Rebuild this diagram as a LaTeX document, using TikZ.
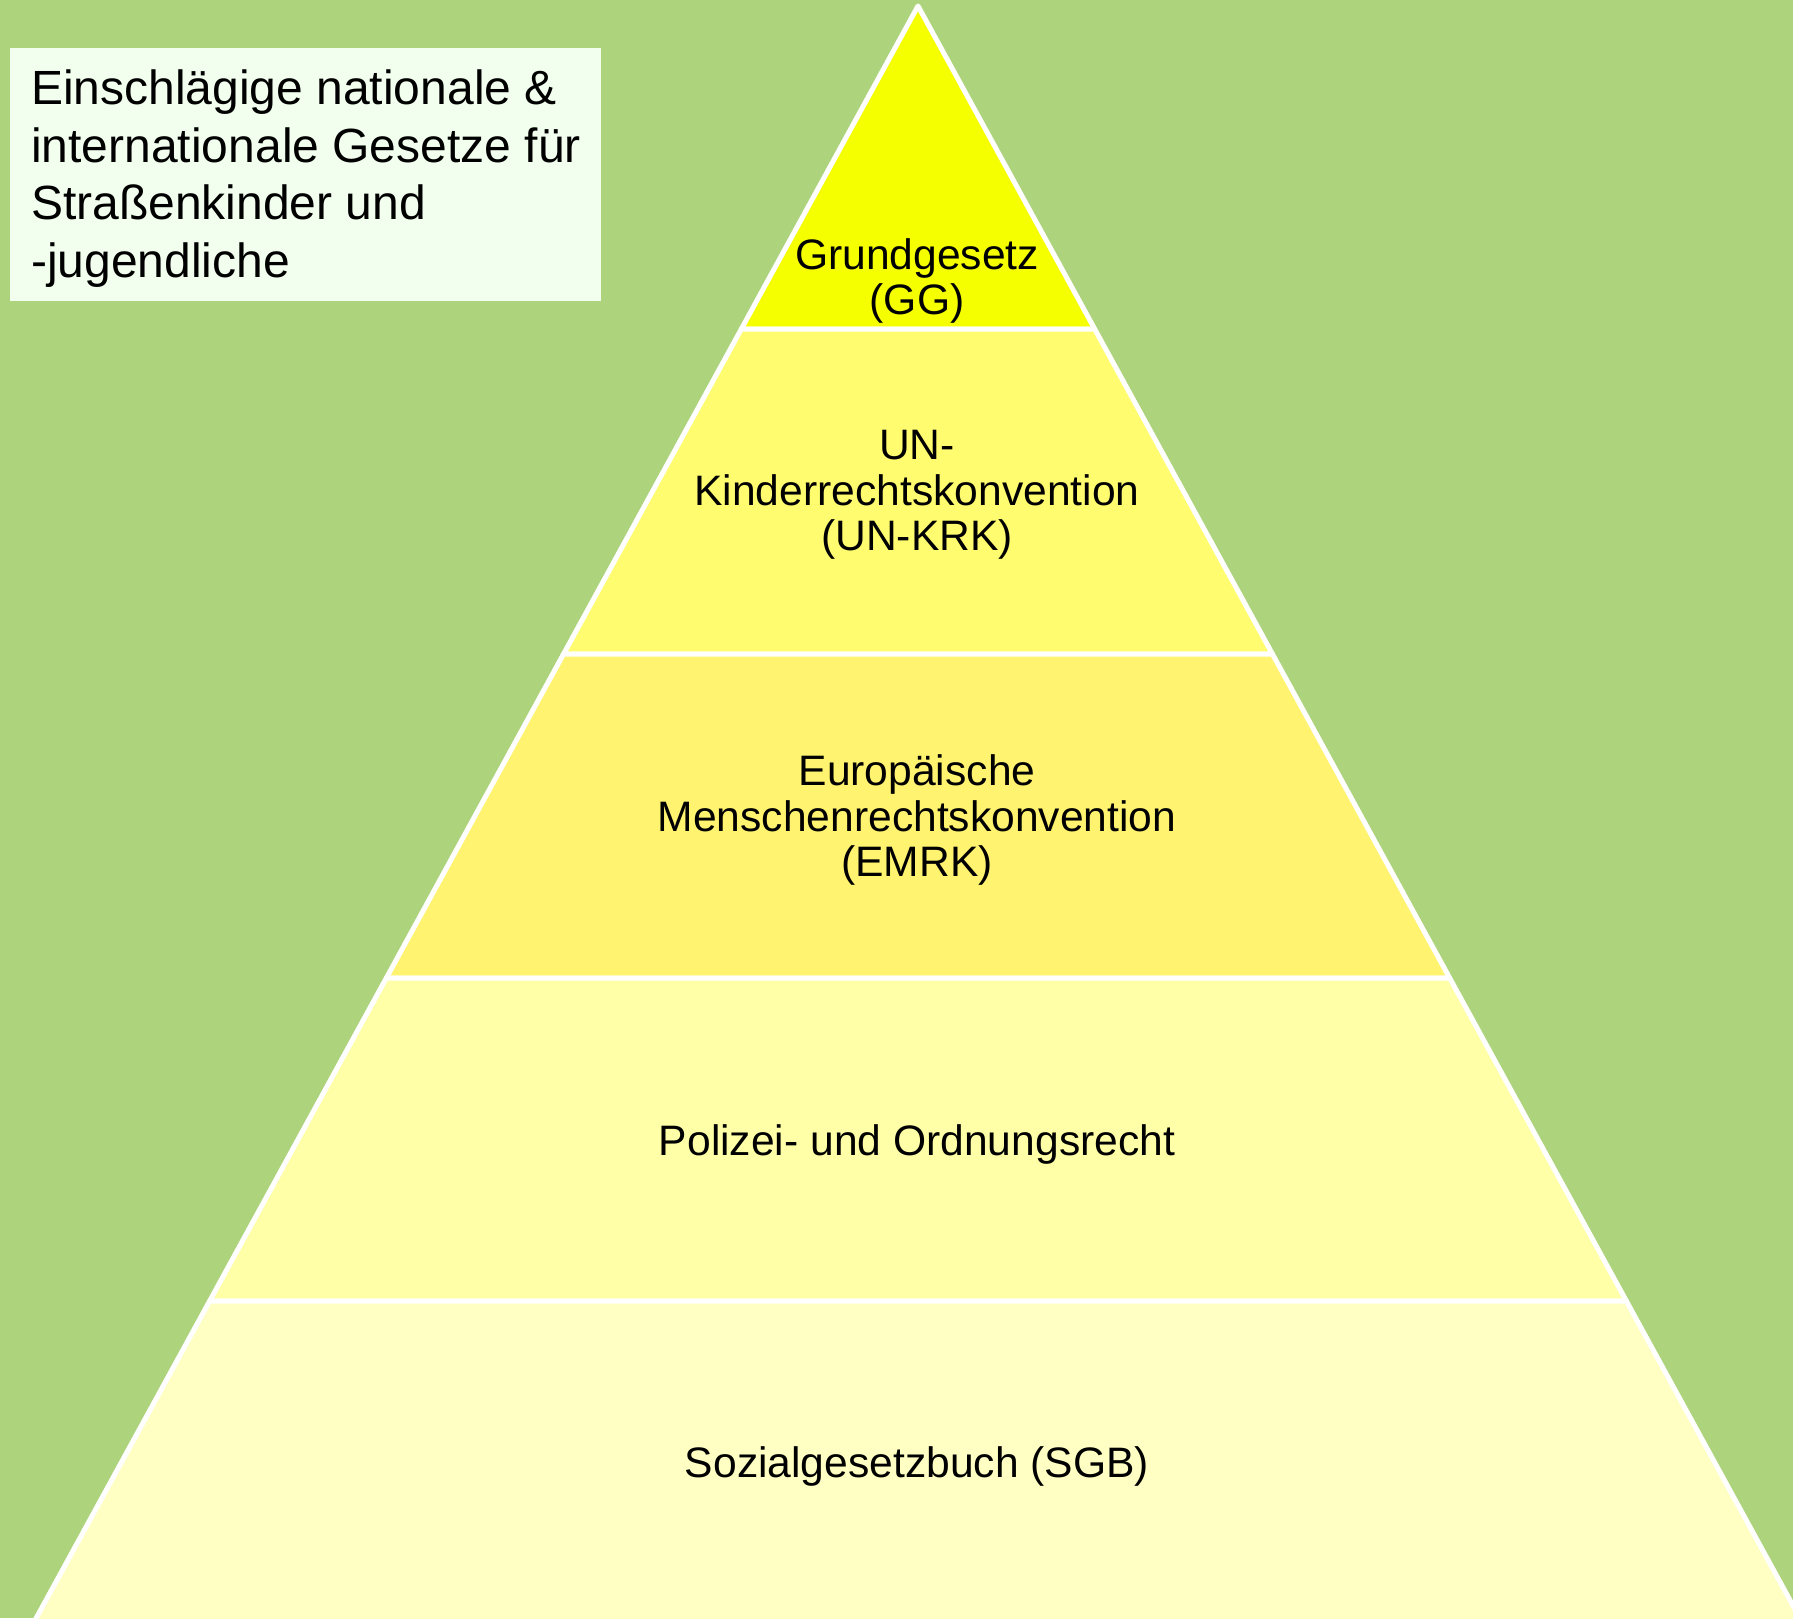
\documentclass[tikz,border=0pt]{standalone}
\usepackage{fontspec}
\setmainfont{Liberation Sans}

\definecolor{bggreen}{RGB}{173,211,125}
\definecolor{boxfill}{RGB}{242,255,238}
\definecolor{ggyellow}{RGB}{245,255,0}
\definecolor{krkyellow}{RGB}{255,252,112}
\definecolor{emrkyellow}{RGB}{255,243,112}
\definecolor{polyellow}{RGB}{255,255,168}
\definecolor{sgbyellow}{RGB}{255,255,196}

\begin{document}
\begin{tikzpicture}
  [x=1pt, y=-1pt,
   band/.style={draw=white, line width=5pt, line join=round},
   lawlabel/.style={font=\fontsize{42.6}{45.5}\selectfont, align=center, inner sep=0pt},
   titlebox/.style={fill=boxfill, anchor=north west, inner sep=0pt,
     minimum width=591pt, minimum height=253pt},
   titletext/.style={align=left, inner sep=0pt, font=\fontsize{48}{57.5}\selectfont}]
  \fill[bggreen] (0,0) rectangle (1793,1618);
  \useasboundingbox (0,0) rectangle (1793,1618);
  \clip (0,0) rectangle (1793,1618);
  % pyramid levels, top to bottom
  \foreach \ytop/\ybot/\col in {6/329/ggyellow, 329/654/krkyellow, 654/978/emrkyellow,
                                978/1301/polyellow, 1301/1632/sgbyellow}{
    \pgfmathsetmacro\wt{0.547*(\ytop-6)}
    \pgfmathsetmacro\wb{0.547*(\ybot-6)}
    \filldraw[band, fill=\col] ({918-\wt},\ytop) -- ({918+\wt},\ytop)
      -- ({918+\wb},\ybot) -- ({918-\wb},\ybot) -- cycle;
  }
  \node[lawlabel] (gg) at (917,281) {Grundgesetz\\(GG)};
  \node[lawlabel] (unkrk) at (917,495) {UN-\\Kinderrechtskonvention\\(UN-KRK)};
  \node[lawlabel] (emrk) at (917,820) {Europäische\\Menschenrechtskonvention\\(EMRK)};
  \node[lawlabel] (polizei) at (917,1144) {Polizei- und Ordnungsrecht};
  \node[lawlabel] (sgb) at (917,1466) {Sozialgesetzbuch (SGB)};
  % legend box
  \node[titlebox] (title) at (10,48) {};
  \node[titletext, anchor=west] (titletxt) at ([xshift=21pt, yshift=-4pt]title.west)
    {Einschlägige nationale \&\\internationale Gesetze für\\Straßenkinder und\\-jugendliche};
\end{tikzpicture}
\end{document}
